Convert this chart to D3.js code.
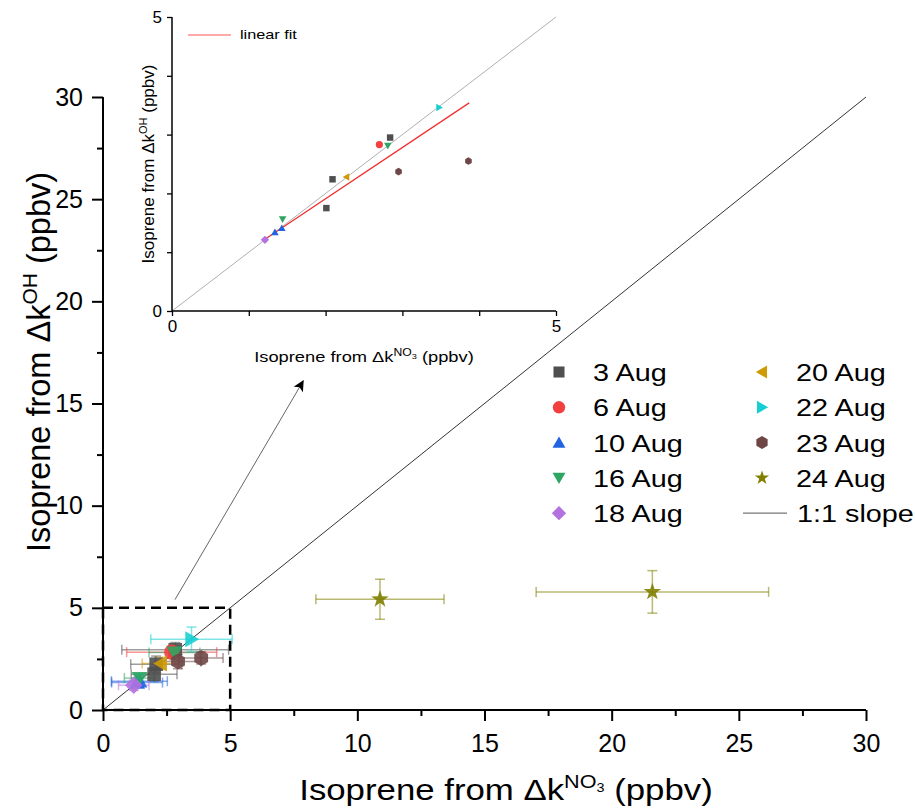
<!DOCTYPE html>
<html><head><meta charset="utf-8">
<script src="https://cdn.jsdelivr.net/npm/d3@7"></script>
<style>
body{margin:0;background:#fff;}
text{font-family:"Liberation Sans",Arial,sans-serif;fill:#000;}
</style></head>
<body><svg id="c" width="915" height="812"></svg>
<script>
// ---------- DATA ----------
const series = ["3 Aug","6 Aug","10 Aug","16 Aug","18 Aug","20 Aug","22 Aug","23 Aug","24 Aug"];
const colors = ["#4f4f4f","#f23f3f","#2163e0","#2da663","#b472e0","#cf9a05","#17cfd2","#6f4646","#7f7f00"];
const shapes = ["square","circle","triUp","triDown","diamond","triLeft","triRight","hexagon","star"];
// points: series index, x (NO3), y (OH), x error, y error
const ptSeries = [0,0,0,1,2,2,3,3,4,5,6,7,7,8,8];
const ptX      = [2.01,2.09,2.84,2.70,1.34,1.43,1.44,2.81,1.21,2.27,3.48,2.95,3.86,10.89,21.60];
const ptY      = [1.75,2.24,2.95,2.83,1.34,1.41,1.56,2.81,1.21,2.28,3.46,2.37,2.55,5.42,5.78];
const ptXErr   = [0.90,1.00,2.10,1.77,1.00,1.10,0.60,1.00,0.60,0.73,1.60,0.90,0.86,2.52,4.57];
const ptYErr   = [0.35,0.40,0.35,0.30,0.20,0.25,0.20,0.35,0.25,0.30,0.60,0.35,0.30,0.98,1.04];
const mainTicks = [0,5,10,15,20,25,30];
const mainMinor = [2.5,7.5,12.5,17.5,22.5,27.5];
const insetTicks = [0,1,2,3,4,5];
const insetLabels = [0,5];
const fitSlope = 0.872, fitIntercept = 0.165, fitRange = [1.21,3.87];
const oneToOne = [0,30];
const zoomBox = [0,5];
const arrowFrom = [2.83,5.4], arrowTo = [7.87,16.1];

const pts = ptX.map((x,i)=>({s:ptSeries[i],x,y:ptY[i],ex:ptXErr[i],ey:ptYErr[i]}));

// ---------- SYMBOLS ----------
function symPath(shape, r){
  const p = d3.path();
  const poly = (verts)=>{verts.forEach((v,i)=> i?p.lineTo(v[0],v[1]):p.moveTo(v[0],v[1])); p.closePath();};
  const tri = (rot)=>{ const v=[]; for(let k=0;k<3;k++){const a=rot+k*2*Math.PI/3; v.push([r*1.15*Math.sin(a)-Math.sin(rot)*r*0.2, -r*1.15*Math.cos(a)+Math.cos(rot)*r*0.2]);} poly(v); };
  switch(shape){
    case "square": poly([[-r*0.85,-r*0.85],[r*0.85,-r*0.85],[r*0.85,r*0.85],[-r*0.85,r*0.85]]); break;
    case "circle": p.arc(0,0,r*0.95,0,2*Math.PI); break;
    case "triUp": tri(0); break;
    case "triDown": tri(Math.PI); break;
    case "triLeft": tri(-Math.PI/2); break;
    case "triRight": tri(Math.PI/2); break;
    case "diamond": poly([[0,-r*1.1],[r*1.1,0],[0,r*1.1],[-r*1.1,0]]); break;
    case "hexagon": { const v=[]; for(let k=0;k<6;k++){const a=k*Math.PI/3; v.push([r*Math.sin(a),-r*Math.cos(a)]);} poly(v); break; }
    case "star": { const v=[]; for(let k=0;k<10;k++){const a=k*Math.PI/5; const rr=k%2?r*0.45:r*1.15; v.push([rr*Math.sin(a),-rr*Math.cos(a)]);} poly(v); break; }
  }
  return p.toString();
}
function sText(parent, tx, ty, size, sx, anchor){
  return parent.append("text").attr("transform",`translate(${tx},${ty}) scale(${sx},1)`)
    .attr("font-size",size).attr("text-anchor",anchor||"start");
}

const svg = d3.select("#c");

// ---------- MAIN CHART ----------
const x = d3.scaleLinear([0,30],[103,866]);
const y = d3.scaleLinear([0,30],[710,97]);

svg.append("line").attr("x1",x(oneToOne[0])).attr("y1",y(oneToOne[0])).attr("x2",x(oneToOne[1])).attr("y2",y(oneToOne[1]))
  .attr("stroke","#333").attr("stroke-width",1);

const eb = svg.append("g").attr("fill","none").attr("stroke-width",1.5).attr("stroke-opacity",0.55);
pts.forEach(d=>{
  const c = colors[d.s], cap=5;
  const g = eb.append("g").attr("stroke",c);
  g.append("line").attr("x1",x(d.x-d.ex)).attr("x2",x(d.x+d.ex)).attr("y1",y(d.y)).attr("y2",y(d.y));
  g.append("line").attr("x1",x(d.x-d.ex)).attr("x2",x(d.x-d.ex)).attr("y1",y(d.y)-cap).attr("y2",y(d.y)+cap);
  g.append("line").attr("x1",x(d.x+d.ex)).attr("x2",x(d.x+d.ex)).attr("y1",y(d.y)-cap).attr("y2",y(d.y)+cap);
  g.append("line").attr("x1",x(d.x)).attr("x2",x(d.x)).attr("y1",y(d.y-d.ey)).attr("y2",y(d.y+d.ey));
  g.append("line").attr("x1",x(d.x)-cap).attr("x2",x(d.x)+cap).attr("y1",y(d.y-d.ey)).attr("y2",y(d.y-d.ey));
  g.append("line").attr("x1",x(d.x)-cap).attr("x2",x(d.x)+cap).attr("y1",y(d.y+d.ey)).attr("y2",y(d.y+d.ey));
});
svg.append("g").selectAll("path").data(pts).join("path")
  .attr("d",d=>symPath(shapes[d.s],8))
  .attr("transform",d=>`translate(${x(d.x)},${y(d.y)})`)
  .attr("fill",d=>colors[d.s]).attr("fill-opacity",0.9);

svg.append("rect").attr("x",x(zoomBox[0])).attr("y",y(zoomBox[1]))
  .attr("width",x(zoomBox[1])-x(zoomBox[0])).attr("height",y(zoomBox[0])-y(zoomBox[1]))
  .attr("fill","none").attr("stroke","#000").attr("stroke-width",2.5).attr("stroke-dasharray","10,6");

svg.append("defs").append("marker").attr("id","ah").attr("viewBox","0 0 10 10").attr("refX",9).attr("refY",5)
  .attr("markerWidth",11).attr("markerHeight",11).attr("markerUnits","userSpaceOnUse").attr("orient","auto")
  .append("path").attr("d","M0,0L10,5L0,10L2.5,5Z").attr("fill","#000");
svg.append("line").attr("x1",x(arrowFrom[0])).attr("y1",y(arrowFrom[1])).attr("x2",x(arrowTo[0])).attr("y2",y(arrowTo[1]))
  .attr("stroke","#666").attr("stroke-width",1).attr("marker-end","url(#ah)");

const ax = svg.append("g").attr("transform",`translate(0,${y(0)})`)
  .call(d3.axisBottom(x).tickValues(mainTicks).tickSize(11).tickPadding(13).tickFormat(d3.format("d")));
ax.append("g").call(d3.axisBottom(x).tickValues(mainMinor).tickSize(6).tickFormat(""));
const ay = svg.append("g").attr("transform",`translate(${x(0)},0)`)
  .call(d3.axisLeft(y).tickValues(mainTicks).tickSize(11).tickPadding(9).tickFormat(d3.format("d")));
ay.append("g").call(d3.axisLeft(y).tickValues(mainMinor).tickSize(6).tickFormat(""));
[ax,ay].forEach(a=>{
  a.selectAll(".domain").attr("stroke","#000").attr("stroke-width",2).attr("d", a===ax?`M${x(0)},0H${x(30)}`:`M0,${y(0)}V${y(30)}`);
  a.selectAll(".tick line").attr("stroke","#000").attr("stroke-width",2);
  a.selectAll("text").attr("font-size",25).attr("font-family","Liberation Sans, Arial");
});

// axis titles
const xt = sText(svg, 506, 800, 29, 1.2, "middle");
xt.append("tspan").text("Isoprene from Δk");
xt.append("tspan").attr("font-size",18).attr("dy",-12).text("NO");
xt.append("tspan").attr("font-size",12).attr("dy",4).text("3");
xt.append("tspan").attr("dy",8).text(" (ppbv)");
const yt = svg.append("text").attr("transform",`translate(50,362) rotate(-90)`).attr("text-anchor","middle").attr("font-size",32.5);
yt.append("tspan").text("Isoprene from Δk");
yt.append("tspan").attr("font-size",21).attr("dy",-13).text("OH");
yt.append("tspan").attr("dy",13).text(" (ppbv)");

// legend
const leg = svg.append("g");
series.forEach((s,i)=>{
  const col = i<5?0:1, row = i<5?i:i-5;
  const lx = col?762:559, ly = 372+row*35.3;
  leg.append("path").attr("d",symPath(shapes[i],6.5)).attr("transform",`translate(${lx},${ly})`).attr("fill",colors[i]);
  sText(leg, lx+34, ly+9, 24, 1.2).text(s);
});
leg.append("line").attr("x1",743).attr("x2",787).attr("y1",372+4*35.3).attr("y2",372+4*35.3).attr("stroke","#777").attr("stroke-width",1.2);
sText(leg, 797, 372+4*35.3+9, 24, 1.2).text("1:1 slope");

// ---------- INSET ----------
const ix = d3.scaleLinear([0,5],[172,556]);
const iy = d3.scaleLinear([0,5],[311,17]);
const ins = svg.append("g");
ins.append("line").attr("x1",ix(0)).attr("y1",iy(0)).attr("x2",ix(5)).attr("y2",iy(5)).attr("stroke","#b0b0b0").attr("stroke-width",1);
ins.append("line").attr("x1",ix(fitRange[0])).attr("y1",iy(fitIntercept+fitSlope*fitRange[0]))
  .attr("x2",ix(fitRange[1])).attr("y2",iy(fitIntercept+fitSlope*fitRange[1])).attr("stroke","#f23030").attr("stroke-width",1.3);
ins.append("g").selectAll("path").data(pts.filter(d=>d.x<=5)).join("path")
  .attr("d",d=>symPath(shapes[d.s],3.8))
  .attr("transform",d=>`translate(${ix(d.x)},${iy(d.y)})`)
  .attr("fill",d=>colors[d.s]);
const iax = ins.append("g").attr("transform",`translate(0,${iy(0)})`)
  .call(d3.axisBottom(ix).tickValues(insetTicks).tickSize(5).tickPadding(4).tickFormat(d=>insetLabels.includes(d)?d:""));
const iay = ins.append("g").attr("transform",`translate(${ix(0)},0)`)
  .call(d3.axisLeft(iy).tickValues(insetTicks).tickSize(5).tickPadding(5).tickFormat(d=>insetLabels.includes(d)?d:""));
[iax,iay].forEach(a=>{
  a.selectAll(".domain").attr("stroke","#000").attr("stroke-width",1.5).attr("d", a===iax?`M${ix(0)},0H${ix(5)}`:`M0,${iy(0)}V${iy(5)}`);
  a.selectAll(".tick line").attr("stroke","#000").attr("stroke-width",1.3);
  a.selectAll("text").attr("font-size",17).attr("font-family","Liberation Sans, Arial");
});
const ixt = sText(ins, 364, 362, 15, 1.22, "middle");
ixt.append("tspan").text("Isoprene from Δk");
ixt.append("tspan").attr("font-size",10).attr("dy",-6).text("NO");
ixt.append("tspan").attr("font-size",7.5).attr("dy",2.5).text("3");
ixt.append("tspan").attr("dy",3.5).text(" (ppbv)");
const iyt = ins.append("text").attr("transform",`translate(154,164) rotate(-90)`).attr("text-anchor","middle").attr("font-size",17);
iyt.append("tspan").text("Isoprene from Δk");
iyt.append("tspan").attr("font-size",11).attr("dy",-7).text("OH");
iyt.append("tspan").attr("dy",7).text(" (ppbv)");
ins.append("line").attr("x1",188).attr("x2",231).attr("y1",35).attr("y2",35).attr("stroke","#f55").attr("stroke-width",1.2);
sText(ins, 240, 39, 13, 1.25).text("linear fit");
</script></body></html>
